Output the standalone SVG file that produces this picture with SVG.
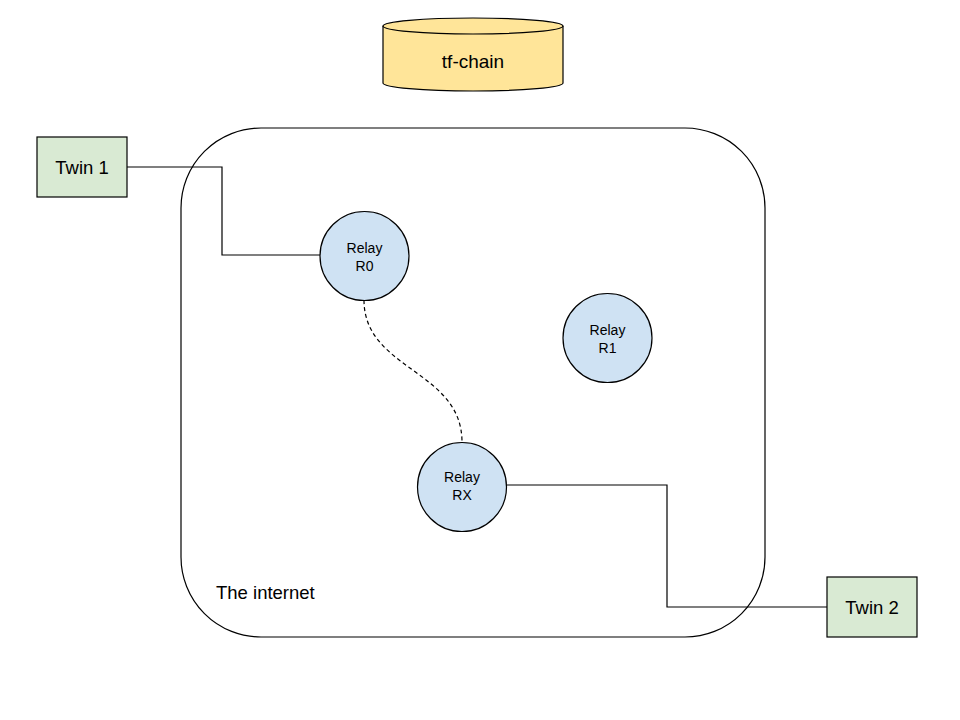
<svg xmlns="http://www.w3.org/2000/svg" width="960" height="720" viewBox="0 0 960 720">
<style>
.s{stroke:#000;stroke-width:1.2}
.t{font-family:"Liberation Sans",Arial,sans-serif;fill:#000}
.twin{fill:#d9ead3}
.relay{fill:#cfe2f3}
.c{fill:none;stroke:#000;stroke-width:1.2}
</style>
<rect width="960" height="720" fill="#fff"/>
<g id="internet">
<rect x="181" y="128" width="584" height="509" rx="80" ry="80" fill="none" class="s"/>
<text class="t" x="216" y="599" font-size="18.5">The internet</text>
</g>
<g id="tf-chain">
<path d="M383 26 L383 83 A90 8 0 0 0 563 83 L563 26 A90 8 0 0 0 383 26 Z" fill="#ffe599" class="s"/>
<path d="M383 26 A90 8 0 0 0 563 26" fill="none" class="s"/>
<text class="t" x="473" y="68" font-size="19" text-anchor="middle">tf-chain</text>
</g>
<g id="connectors">
<polyline class="c" points="127,167 222,167 222,255 320,255"/>
<polyline class="c" points="507,485 667,485 667,607 827,607"/>
<path class="c" stroke-dasharray="4,3" d="M364 300 C364 370 462 370 462 442"/>
</g>
<g id="twin1">
<rect x="37" y="137" width="90" height="60" class="twin s"/>
<text class="t" x="82" y="174" font-size="18.5" text-anchor="middle">Twin 1</text>
</g>
<g id="twin2">
<rect x="827" y="577" width="90" height="60" class="twin s"/>
<text class="t" x="872" y="614" font-size="18.5" text-anchor="middle">Twin 2</text>
</g>
<g id="r0">
<circle cx="364.5" cy="256" r="44.5" class="relay s"/>
<text class="t" x="364.5" y="253" font-size="14" text-anchor="middle">Relay</text>
<text class="t" x="364.5" y="271" font-size="14" text-anchor="middle">R0</text>
</g>
<g id="r1">
<circle cx="607.5" cy="338" r="44.5" class="relay s"/>
<text class="t" x="607.5" y="335" font-size="14" text-anchor="middle">Relay</text>
<text class="t" x="607.5" y="353" font-size="14" text-anchor="middle">R1</text>
</g>
<g id="rx">
<circle cx="462" cy="487" r="44.5" class="relay s"/>
<text class="t" x="462" y="482" font-size="14" text-anchor="middle">Relay</text>
<text class="t" x="462" y="500" font-size="14" text-anchor="middle">RX</text>
</g>
</svg>
